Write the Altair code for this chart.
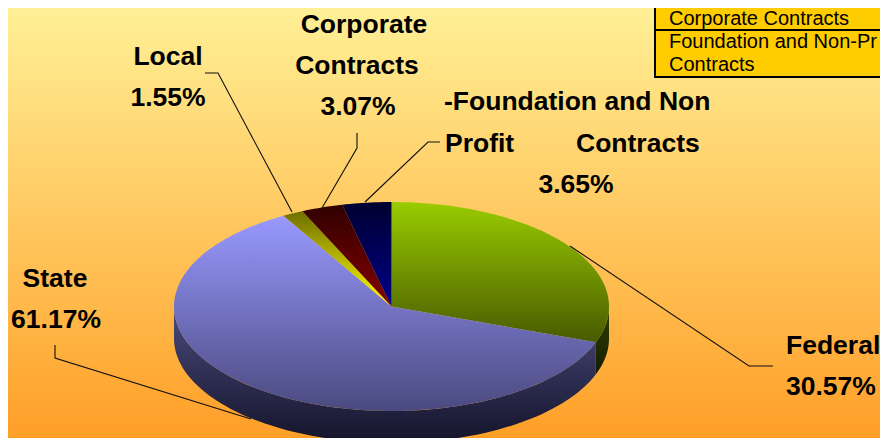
import numpy as np
import pandas as pd
import altair as alt

# Values
slice_names = ["Federal", "State", "Local", "Corporate Contracts", "Foundation and Non-Profit Contracts"]
shares = [30.57, 61.17, 1.55, 3.07, 3.65]
share_labels = ["30.57%", "61.17%", "1.55%", "3.07%", "3.65%"]

W, H, M = 872, 430, 8
CX, CY, RX, RY, DEPTH = 391.5, 306.5, 217.5, 104.5, 32.0
FONT = "Liberation Sans"
SIZE = 26.5


def grad(top, bottom):
    return alt.Gradient(
        gradient="linear", x1=0, x2=0, y1=0, y2=1,
        stops=[alt.GradientStop(color=top, offset=0), alt.GradientStop(color=bottom, offset=1)],
    )


xs = alt.X("x:Q", scale=alt.Scale(domain=[M, M + W]), axis=None)
ys = alt.Y("y:Q", scale=alt.Scale(domain=[M + H, M]), axis=None)


def rim(a, dy=0.0):
    return CX + RX * np.sin(a), CY - RY * np.cos(a) + dy


def polygon(px, py, fill):
    df = pd.DataFrame({"x": px, "y": py, "i": np.arange(len(px))})
    return alt.Chart(df).mark_line(fill=fill, strokeWidth=0, clip=True).encode(
        x=xs, y=ys, order=alt.Order("i:Q")
    )


def wall(a0, a1, fill):
    a = np.linspace(a0, a1, 80)
    tx, ty = rim(a)
    bx, by = rim(a[::-1], DEPTH)
    return polygon(np.r_[tx, bx], np.r_[ty, by], fill)


def wedge(a0, a1, fill):
    a = np.linspace(a0, a1, max(6, int((a1 - a0) * 60)))
    rx, ry = rim(a)
    return polygon(np.r_[CX, rx, CX], np.r_[CY, ry, CY], fill)


edges = np.r_[0, np.cumsum(shares)] / sum(shares) * 2 * np.pi

background = alt.Chart(pd.DataFrame({"k": [0]})).mark_rect(fill=grad("#FFF096", "#FF9F28")).encode(
    x=alt.value(0), x2=alt.value(W), y=alt.value(0), y2=alt.value(H)
)

layers = [background]
layers.append(wall(np.pi / 2, edges[1], grad("#344200", "#141C00")))
layers.append(wall(edges[1], 3 * np.pi / 2, grad("#4A4A7E", "#14142A")))

top_fills = [
    grad("#99CC00", "#485A00"),
    grad("#9999FF", "#4A4A80"),
    grad("#6E6E00", "#FFFF00"),
    grad("#300000", "#860000"),
    grad("#000030", "#000088"),
]
for k in range(5):
    layers.append(wedge(edges[k], edges[k + 1], top_fills[k]))

# Leader lines
leaders = [
    [(205, 73), (218, 73), (292, 212)],
    [(357, 133), (357, 148), (322, 208)],
    [(440, 142), (428, 142), (365, 202)],
    [(570, 246), (749, 366), (773, 366)],
    [(55, 345), (55, 358), (251, 419)],
]
rows = []
for n, pts in enumerate(leaders):
    for i, (a, b) in enumerate(pts):
        rows.append({"x": a, "y": b, "n": n, "i": i})
layers.append(
    alt.Chart(pd.DataFrame(rows)).mark_line(color="#111111", strokeWidth=1.1, clip=True).encode(
        x=xs, y=ys, detail="n:N", order=alt.Order("i:Q")
    )
)

# Data labels
labels = [
    ("Corporate", 364, 33, "center"),
    ("Contracts", 357, 74, "center"),
    (share_labels[3], 358, 115, "center"),
    ("Local", 168, 65, "center"),
    (share_labels[2], 168, 106, "center"),
    ("-Foundation and Non", 444, 110, "left"),
    ("Profit", 445, 152, "left"),
    ("Contracts", 576, 152, "left"),
    (share_labels[4], 576, 193, "center"),
    ("Federal", 786, 354, "left"),
    (share_labels[0], 786, 395, "left"),
    ("State", 55, 287, "center"),
    (share_labels[1], 56, 328, "center"),
]
for txt, lx, ly, al in labels:
    layers.append(
        alt.Chart(pd.DataFrame({"t": [txt], "x": [lx], "y": [ly]})).mark_text(
            font=FONT, fontSize=SIZE, fontWeight="bold", align=al, baseline="alphabetic", color="#000000"
        ).encode(x=xs, y=ys, text="t:N")
    )

# Legend box, running off the top and right edges
box = pd.DataFrame({"x": [655, 655], "x2": [900, 900], "y": [-6, 30], "y2": [30, 77]})
layers.append(
    alt.Chart(box).mark_rect(fill="#FFCC00", stroke="#000000", strokeWidth=2, clip=True).encode(
        x=alt.X("x:Q", scale=alt.Scale(domain=[M, M + W]), axis=None),
        x2="x2:Q",
        y=alt.Y("y:Q", scale=alt.Scale(domain=[M + H, M]), axis=None),
        y2="y2:Q",
    )
)
legend_lines = [
    (slice_names[3], 25),
    ("Foundation and Non-Pr", 48),
    ("Contracts", 71),
]
for txt, ly in legend_lines:
    layers.append(
        alt.Chart(pd.DataFrame({"t": [txt], "x": [669], "y": [ly]})).mark_text(
            font=FONT, fontSize=20, align="left", baseline="alphabetic", color="#000000"
        ).encode(x=xs, y=ys, text="t:N")
    )

chart = (
    alt.layer(*layers)
    .properties(width=W, height=H, padding=0, autosize=alt.AutoSizeParams(type="none"))
    .configure_view(stroke=None)
)
chart.save("out.html", embed_options={"renderer": "svg", "actions": False})
